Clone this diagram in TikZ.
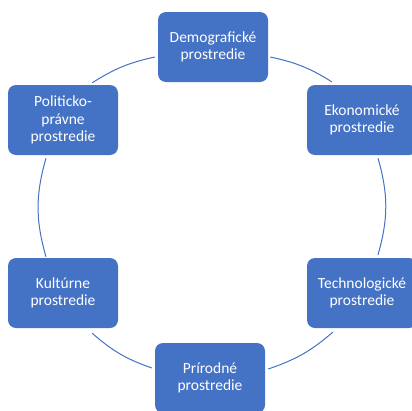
\documentclass[tikz,border=0pt]{standalone}
\usepackage{fontspec}
\setmainfont{Carlito}
\definecolor{sablue}{HTML}{4472C4}
\begin{document}
\begin{tikzpicture}[x=1pt,y=-1pt,
  box/.style={draw=none, fill=sablue, rounded corners=8pt, minimum width=110pt, minimum height=70pt,
    text=white, align=center, font=\fontsize{15.5}{17.2}\selectfont, inner sep=2pt},
  ring/.style={draw=sablue, line width=1pt}]
\useasboundingbox (0,0) rectangle (412,410);
\clip (0,0) rectangle (412,410);
\node[box] (dem) at (213,47) {Demografické\\prostredie};
\node[box] (pol) at (63,120) {Politicko-\\právne\\prostredie};
\node[box] (eko) at (362,120) {Ekonomické\\prostredie};
\node[box] (kul) at (63,293) {Kultúrne\\prostredie};
\node[box] (tech) at (362,293) {Technologické\\prostredie};
\node[box] (pri) at (210,378) {Prírodné\\prostredie};
\draw[ring] ([shift={(-26,-2)}]pol.north east) to[bend left=10] ([shift={(-3,10)}]dem.west);
\draw[ring] ([shift={(2,10)}]dem.east) to[bend left=10] ([shift={(25,-3)}]eko.north west);
\draw[ring] ([shift={(16,3)}]eko.south) to[bend left=16] ([shift={(16,-3)}]tech.north);
\draw[ring] ([shift={(26,4)}]tech.south west) to[bend left=11] ([shift={(3,-9)}]pri.east);
\draw[ring] ([shift={(-3,-10)}]pri.west) to[bend left=11] ([shift={(-26,5)}]kul.south east);
\draw[ring] ([shift={(-17,-1)}]kul.north) to[bend left=16] ([shift={(-17,3)}]pol.south);
\end{tikzpicture}
\end{document}
